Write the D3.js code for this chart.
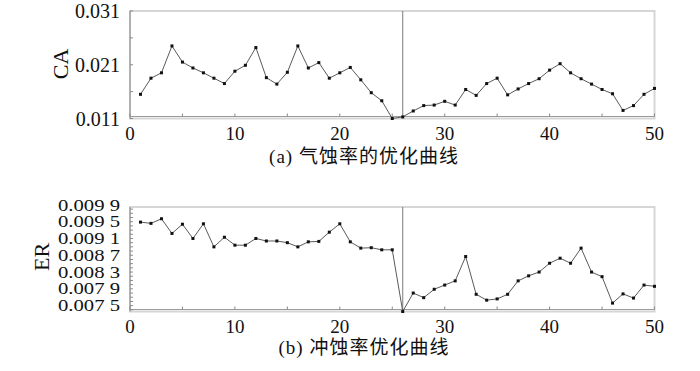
<!DOCTYPE html>
<html>
<head>
<meta charset="utf-8">
<script src="https://cdn.jsdelivr.net/npm/d3@7"></script>
<style>
  body { margin: 0; background: #fff; }
  text { font-family: "Liberation Serif", "Noto Sans CJK SC", serif; fill: #111; }
</style>
</head>
<body>
<script>
const [W, H] = [700, 371];

// iteration index
const iterations = [1, 2, 3, 4, 5, 6, 7, 8, 9, 10, 11, 12, 13, 14, 15, 16, 17, 18, 19, 20,
    21, 22, 23, 24, 25, 26, 27, 28, 29, 30, 31, 32, 33, 34, 35, 36, 37, 38, 39, 40,
    41, 42, 43, 44, 45, 46, 47, 48, 49, 50];

// (a) cavitation rate
const caValues = [0.0155, 0.0185, 0.0195, 0.0245, 0.0215, 0.0204, 0.0195, 0.0185, 0.0175, 0.0198,
    0.0209, 0.0242, 0.0186, 0.0174, 0.0196, 0.0245, 0.0204, 0.0214, 0.0185, 0.0195,
    0.0205, 0.0182, 0.0158, 0.0143, 0.0110, 0.0113, 0.0124, 0.0134, 0.0135, 0.0142,
    0.0135, 0.0164, 0.0153, 0.0175, 0.0185, 0.0154, 0.0165, 0.0175, 0.0184, 0.0200,
    0.0212, 0.0195, 0.0184, 0.0174, 0.0164, 0.0156, 0.0125, 0.0134, 0.0155, 0.0166];

// (b) erosion rate
const erValues = [0.00949, 0.00946, 0.00957, 0.00922, 0.00944, 0.00910, 0.00945, 0.00890, 0.00913, 0.00894,
    0.00894, 0.00910, 0.00904, 0.00904, 0.00900, 0.00890, 0.00902, 0.00903, 0.00925, 0.00945,
    0.00902, 0.00887, 0.00888, 0.00883, 0.00883, 0.00736, 0.00780, 0.00769, 0.00789, 0.00799,
    0.00809, 0.00867, 0.00777, 0.00763, 0.00766, 0.00777, 0.00809, 0.00821, 0.00830, 0.00851,
    0.00863, 0.00851, 0.00887, 0.00830, 0.00819, 0.00756, 0.00778, 0.00768, 0.00799, 0.00796];

const caTicks = [0.011, 0.021, 0.031];
const caMinor = [0.011, 0.016, 0.021, 0.026, 0.031];
const erTicks = [0.0099, 0.0095, 0.0091, 0.0087, 0.0083, 0.0079, 0.0075];
const erTickLabels = ['0.009 9', '0.009 5', '0.009 1', '0.008 7', '0.008 3', '0.007 9', '0.007 5'];
const xTicks = [0, 10, 20, 30, 40, 50];
const xMinor = [0, 5, 10, 15, 20, 25, 30, 35, 40, 45, 50];
const bestIteration = 26;

const svg = d3.select('body').append('svg').attr('width', W).attr('height', H);

const xScale = d3.scaleLinear().domain([0, 50]).range([130, 654.5]);

function panel(cfg) {
    const g = svg.append('g');
    const [yBot, yTop] = cfg.yScale.range();

    // frame
    g.append('rect')
        .attr('x', xScale(0)).attr('y', yTop)
        .attr('width', xScale(50) - xScale(0)).attr('height', yBot - yTop)
        .attr('fill', 'none').attr('stroke', '#d6d6d6').attr('stroke-width', 2);

    // axes (ticks inside)
    g.append('line')
        .attr('x1', xScale(0)).attr('x2', xScale(50))
        .attr('y1', yBot - 2).attr('y2', yBot - 2)
        .attr('stroke', '#9a9a9a').attr('stroke-width', 1);
    g.append('line')
        .attr('x1', xScale(0)).attr('x2', xScale(0))
        .attr('y1', yTop).attr('y2', yBot)
        .attr('stroke', '#8a8a8a').attr('stroke-width', 1);

    g.selectAll('.xminor').data(xMinor).enter().append('line')
        .attr('x1', d => xScale(d)).attr('x2', d => xScale(d))
        .attr('y1', yBot - 2).attr('y2', yBot - 5)
        .attr('stroke', '#8a8a8a');
    g.selectAll('.yminor').data(cfg.minor).enter().append('line')
        .attr('x1', xScale(0)).attr('x2', xScale(0) + 3)
        .attr('y1', d => cfg.yScale(d)).attr('y2', d => cfg.yScale(d))
        .attr('stroke', '#8a8a8a');

    // tick labels
    g.selectAll('.xl').data(xTicks).enter().append('text')
        .attr('x', d => xScale(d)).attr('y', yBot + 21)
        .attr('text-anchor', 'middle')
        .style('font-size', '19px')
        .text(d => d);

    const yl = g.selectAll('.yl').data(cfg.ticks).enter().append('text')
        .attr('x', 120).attr('y', d => cfg.yScale(d))
        .attr('dy', '0.35em')
        .attr('text-anchor', 'end')
        .style('font-size', cfg.yFont)
        .text((d, i) => cfg.labels[i]);
    if (cfg.yLabelWidth) {
        yl.attr('textLength', cfg.yLabelWidth).attr('lengthAdjust', 'spacingAndGlyphs');
    }

    // axis title
    g.append('text')
        .attr('transform', 'translate(' + cfg.titleX + ',' + cfg.titleY + ') rotate(-90)')
        .attr('text-anchor', 'middle')
        .attr('dy', '0.35em')
        .style('font-size', '22px')
        .text(cfg.title);

    // best iteration marker
    g.append('line')
        .attr('x1', xScale(bestIteration)).attr('x2', xScale(bestIteration))
        .attr('y1', yTop).attr('y2', yBot)
        .attr('stroke', '#7a7a7a').attr('stroke-width', 1);

    // curve
    const line = d3.line().x((d, i) => xScale(iterations[i])).y(d => cfg.yScale(d));
    g.append('path').datum(cfg.values)
        .attr('d', line)
        .attr('fill', 'none').attr('stroke', '#5a5a5a').attr('stroke-width', 1);

    g.selectAll('.dot').data(cfg.values).enter().append('rect')
        .attr('x', (d, i) => xScale(iterations[i]) - 1.5)
        .attr('y', d => cfg.yScale(d) - 1.5)
        .attr('width', 3).attr('height', 3)
        .attr('fill', '#111');

    // caption
    g.append('text')
        .attr('x', 364).attr('y', cfg.captionY)
        .attr('text-anchor', 'middle')
        .attr('dy', '0.35em')
        .style('font-size', '19px')
        .style('letter-spacing', '1px')
        .text(cfg.caption);
}

panel({
    yScale: d3.scaleLinear().domain([0.011, 0.031]).range([118.5, 11]),
    values: caValues,
    ticks: caTicks,
    labels: caTicks.map(d => d3.format('.3f')(d)),
    minor: caMinor,
    yFont: '20px',
    title: 'CA', titleX: 60, titleY: 64,
    caption: '(a) 气蚀率的优化曲线', captionY: 156
});

panel({
    yScale: d3.scaleLinear().domain([0.00736, 0.00985]).range([311.5, 207]),
    values: erValues,
    ticks: erTicks,
    labels: erTickLabels,
    minor: d3.range(74, 99).map(d => d / 10000),
    yFont: '16px',
    yLabelWidth: 62,
    title: 'ER', titleX: 41, titleY: 257,
    caption: '(b) 冲蚀率优化曲线', captionY: 347
});
</script>
</body>
</html>
